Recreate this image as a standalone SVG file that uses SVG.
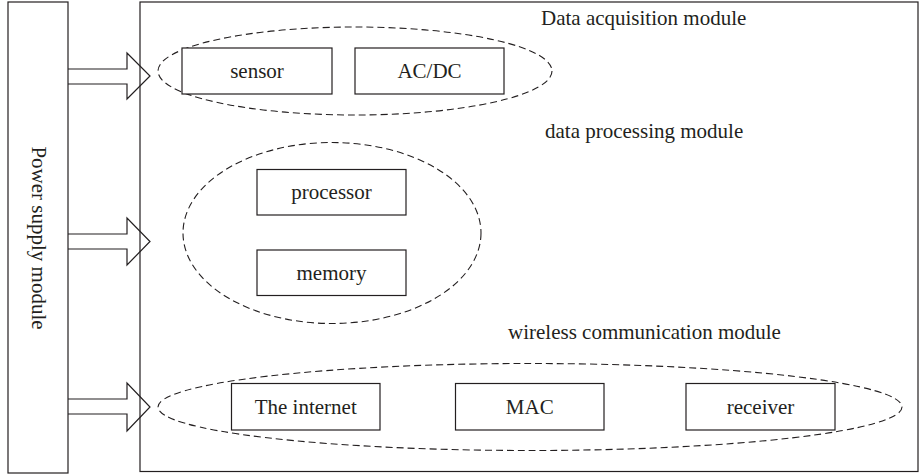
<svg xmlns="http://www.w3.org/2000/svg" width="921" height="475" viewBox="0 0 921 475">
<style>
.box{fill:#fff;stroke:#231f20;stroke-width:1.2}
.frame{fill:none;stroke:#231f20;stroke-width:1.2}
.grp{fill:none;stroke:#231f20;stroke-width:1.1;stroke-dasharray:7 4}
.arr{fill:none;stroke:#231f20;stroke-width:1.2;stroke-linejoin:miter}
text{font-family:"Liberation Serif","Times New Roman",serif;font-size:21px;fill:#231f20}
.c{text-anchor:middle}
</style>
<rect width="921" height="475" fill="#fff"/>
<g id="power">
<rect class="frame" x="8" y="2" width="60" height="471"/>
<text class="c" transform="translate(38,238) rotate(90)" y="6">Power supply module</text>
</g>
<g id="main">
<rect class="frame" x="140" y="2" width="778" height="469.5"/>
</g>
<g id="acq">
<ellipse class="grp" cx="355" cy="71" rx="197" ry="44"/>
<text x="541" y="25">Data acquisition module</text>
</g>
<g id="sensor"><rect class="box" x="182" y="48" width="150" height="46"/><text class="c" x="257" y="78">sensor</text></g>
<g id="acdc"><rect class="box" x="355" y="48" width="149" height="46"/><text class="c" x="429.5" y="78">AC/DC</text></g>
<g id="proc-group">
<ellipse class="grp" cx="332" cy="233" rx="149" ry="90.5"/>
<text x="545" y="138">data processing module</text>
</g>
<g id="processor"><rect class="box" x="257" y="169.5" width="149" height="45.5"/><text class="c" x="331.5" y="199">processor</text></g>
<g id="memory"><rect class="box" x="257" y="250" width="149" height="45.5"/><text class="c" x="331.5" y="280">memory</text></g>
<g id="wireless">
<ellipse class="grp" cx="530" cy="407" rx="372" ry="43.5"/>
<text x="508" y="339">wireless communication module</text>
</g>
<g id="internet"><rect class="box" x="231.5" y="383.5" width="148.5" height="46.5"/><text class="c" x="305.75" y="414">The internet</text></g>
<g id="mac"><rect class="box" x="455.5" y="383.5" width="148.5" height="46.5"/><text class="c" x="529.75" y="414">MAC</text></g>
<g id="receiver"><rect class="box" x="686" y="383.5" width="149" height="46.5"/><text class="c" x="760.5" y="414">receiver</text></g>
<g id="connectors">
<polyline class="arr" points="68,69 127,69 127,53 150,76 127,99 127,84 68,84"/>
<polyline class="arr" points="68,234 127,234 127,218 150,241.5 127,265 127,249 68,249"/>
<polyline class="arr" points="68,399 127,399 127,383 150,407 127,431 127,414 68,414"/>
</g>
</svg>
